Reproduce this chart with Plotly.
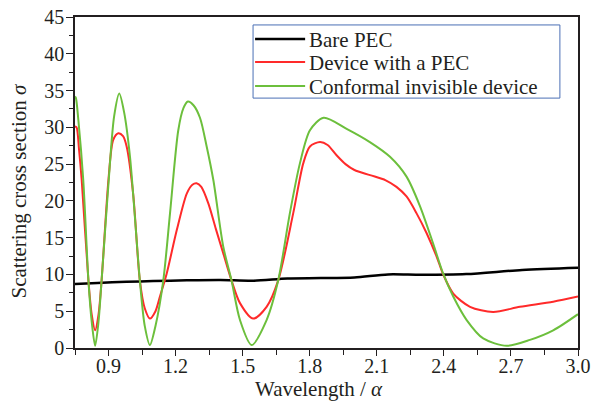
import plotly.graph_objects as go

# Data
bare_x = [0.75, 0.85, 0.98, 1.1, 1.25, 1.4, 1.55, 1.7, 1.85, 2.0, 2.15, 2.3, 2.5, 2.75, 3.0]
bare_y = [8.7, 8.85, 9.0, 9.1, 9.2, 9.25, 9.15, 9.45, 9.5, 9.6, 10.0, 9.95, 10.05, 10.6, 10.9]

dev_x = [0.75, 0.757, 0.768, 0.78, 0.81, 0.825, 0.84, 0.855, 0.869, 0.90, 0.921, 0.944, 0.965, 0.981,
         1.01, 1.04, 1.062, 1.085, 1.11, 1.13, 1.16, 1.205, 1.25, 1.275, 1.294, 1.315, 1.346, 1.38,
         1.413, 1.45, 1.488, 1.547, 1.607, 1.659, 1.726, 1.771, 1.801, 1.846, 1.88, 1.92, 1.96, 2.0,
         2.07, 2.14, 2.188, 2.233, 2.278, 2.323, 2.368, 2.397, 2.442, 2.517, 2.62, 2.74, 2.889, 3.0]
dev_y = [30.1, 30.0, 27.0, 22.8, 9.2, 4.5, 2.4, 4.5, 9.2, 23.0, 28.3, 29.2, 28.8, 27.4,
         21.0, 9.2, 5.4, 4.0, 5.0, 7.0, 10.1, 16.0, 21.0, 22.2, 22.4, 21.9, 19.7, 16.2,
         12.9, 9.2, 6.1, 4.0, 5.6, 9.2, 18.3, 25.1, 27.4, 28.0, 27.6, 26.2, 25.0, 24.2,
         23.5, 22.8, 21.9, 20.6, 18.3, 15.6, 12.4, 10.0, 7.4, 5.6, 4.9, 5.6, 6.3, 7.0]

conf_x = [0.75, 0.754, 0.765, 0.787, 0.81, 0.825, 0.84, 0.855, 0.869, 0.906, 0.925, 0.948, 0.97,
          0.996, 1.04, 1.062, 1.085, 1.11, 1.145, 1.175, 1.212, 1.235, 1.255, 1.28, 1.309, 1.339,
          1.369, 1.413, 1.45, 1.488, 1.54, 1.607, 1.659, 1.711, 1.756, 1.801, 1.862, 1.965, 2.069,
          2.159, 2.233, 2.293, 2.352, 2.397, 2.442, 2.502, 2.576, 2.681, 2.785, 2.889, 3.0]
conf_y = [34.2, 34.0, 31.0, 22.8, 9.2, 3.5, 0.3, 3.5, 9.2, 25.0, 31.5, 34.6, 32.0,
          26.0, 9.2, 3.0, 0.4, 3.0, 9.2, 18.3, 29.6, 32.6, 33.5, 33.0, 31.3, 27.4,
          22.8, 13.8, 9.2, 3.8, 0.4, 3.8, 9.2, 18.3, 25.1, 29.6, 31.3, 29.8, 28.0,
          26.0, 23.3, 19.3, 14.2, 10.1, 7.0, 3.8, 1.3, 0.3, 1.1, 2.4, 4.6]

x_ticks = [0.9, 1.2, 1.5, 1.8, 2.1, 2.4, 2.7, 3.0]
y_ticks = [0, 5, 10, 15, 20, 25, 30, 35, 40, 45]

series_names = ["Bare PEC", "Device with a PEC", "Conformal invisible device"]
series_colors = ["#000000", "#ff2a2a", "#6cbf3c"]
series_widths = [2.5, 2, 2]

FONT = "Liberation Serif"
TXT = "#231f20"

fig = go.Figure()
for xs, ys, name, col, w in zip([bare_x, dev_x, conf_x], [bare_y, dev_y, conf_y],
                                series_names, series_colors, series_widths):
    fig.add_trace(go.Scatter(x=xs, y=ys, mode="lines", name=name, showlegend=False,
                             line=dict(color=col, width=w, shape="spline", smoothing=0.8)))

# Manual legend (box, line samples, labels) in paper coordinates
fig.add_shape(type="rect", xref="paper", yref="paper", x0=0.354, x1=0.964, y0=0.755, y1=0.976,
              line=dict(color="#4a6fb5", width=1), fillcolor="white", layer="above")
row_y = [0.9335, 0.864, 0.7915]
for ry, name, col, w in zip(row_y, series_names, series_colors, series_widths):
    fig.add_shape(type="line", xref="paper", yref="paper", x0=0.358, x1=0.4575, y0=ry, y1=ry,
                  line=dict(color=col, width=w), layer="above")
    fig.add_annotation(xref="paper", yref="paper", x=0.4605, y=ry, xanchor="left", yanchor="middle",
                       yshift=-1, text=name, showarrow=False,
                       font=dict(family=FONT, size=21, color=TXT))

# Axis titles
fig.add_annotation(xref="paper", yref="paper", x=0.5, y=0, xanchor="center", yanchor="middle",
                   xshift=-8, yshift=-41, text="Wavelength / <i>α</i>", showarrow=False,
                   font=dict(family=FONT, size=21, color=TXT))
fig.add_annotation(xref="paper", yref="paper", x=0, y=0.5, xanchor="center", yanchor="middle",
                   xshift=-57, yshift=-8, textangle=-90, text="Scattering cross section <i>σ</i>",
                   showarrow=False, font=dict(family=FONT, size=21, color=TXT))

fig.update_layout(
    width=594, height=401,
    margin=dict(l=75, r=16, t=17, b=53, autoexpand=False),
    paper_bgcolor="white", plot_bgcolor="white",
    font=dict(family=FONT, size=20, color=TXT),
    showlegend=False,
    xaxis=dict(range=[0.75, 3.0], tickvals=x_ticks, tickformat=".1f", automargin=False,
               showgrid=False, zeroline=False, showline=True, linecolor=TXT,
               linewidth=1.5, mirror=True, ticks="outside", ticklen=6, tickwidth=1,
               tickcolor=TXT, ticklabeloverflow="allow", ticklabelstandoff=-7,
               minor=dict(dtick=0.15, tick0=0.75, ticks="outside", ticklen=5, tickcolor=TXT),
               tickfont=dict(family=FONT, size=20)),
    yaxis=dict(range=[0, 45], tickvals=y_ticks, automargin=False,
               showgrid=False, zeroline=False, showline=True, linecolor=TXT,
               linewidth=1.5, mirror=True, ticks="outside", ticklen=7, tickwidth=1,
               tickcolor=TXT, ticklabeloverflow="allow", ticklabelstandoff=-2,
               minor=dict(dtick=2.5, tick0=0, ticks="outside", ticklen=4, tickcolor=TXT),
               tickfont=dict(family=FONT, size=20)),
)

fig.write_html("out.html", config={"displayModeBar": False},
               post_script="document.body.style.margin='0';")
